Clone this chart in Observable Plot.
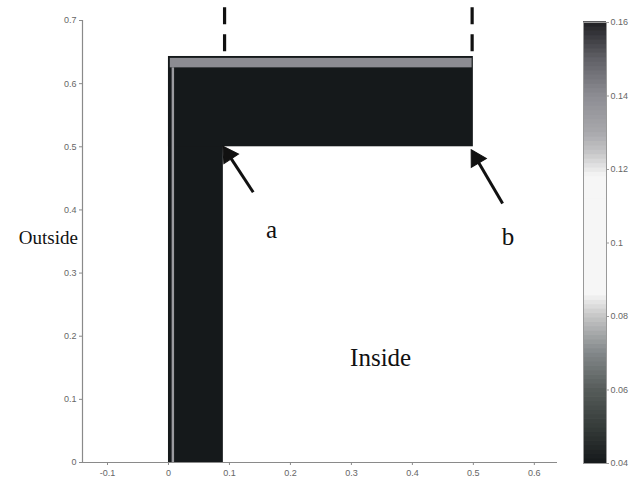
<!DOCTYPE html>
<html>
<head>
<meta charset="utf-8">
<script src="https://cdn.jsdelivr.net/npm/d3@7"></script>
<script src="https://cdn.jsdelivr.net/npm/@observablehq/plot@0.6"></script>
<style>
  html, body { margin: 0; padding: 0; background: #fff; }
  #wrap { position: relative; width: 634px; height: 484px; }
  #main { position: absolute; left: 0; top: 0; }
  #cbar { position: absolute; left: 570px; top: 0; }
</style>
</head>
<body>
<div id="wrap"><div id="main"></div><div id="cbar"></div></div>
<script>
// ---- data ----
const regionX1 = [0, 0, 0.003, 0.006];
const regionX2 = [0.09, 0.5, 0.498, 0.010];
const regionY1 = [0, 0.5, 0.625, 0.0];
const regionY2 = [0.643, 0.643, 0.640, 0.625];
const regionValue = [0.04, 0.04, 0.14, 0.135];

const dashX = [0.092, 0.498];
const dashTop = [0.72, 0.72];
const dashBottom = [0.645, 0.645];

const arrowX1 = [0.139, 0.548];
const arrowY1 = [0.428, 0.410];
const arrowX2 = [0.092, 0.499];
const arrowY2 = [0.497, 0.491];

const labelText = ["Outside", "Inside", "a", "b"];
const labelX = [-0.197, 0.348, 0.169, 0.557];
const labelY = [0.355, 0.166, 0.368, 0.357];

const xTicks = [-0.1, 0, 0.1, 0.2, 0.3, 0.4, 0.5, 0.6];
const yTicks = [0, 0.1, 0.2, 0.3, 0.4, 0.5, 0.6, 0.7];
const cbarTicks = [0.04, 0.06, 0.08, 0.1, 0.12, 0.14, 0.16];

const cmapStops  = [0.04, 0.05, 0.06, 0.07, 0.08, 0.086, 0.118, 0.125, 0.13, 0.14, 0.15, 0.16];
const cmapColors = ["#15191b", "#363c3a", "#565c5a", "#83888a", "#c6c6c6", "#f6f6f6",
                    "#f6f6f6", "#c2c2c4", "#a8a8ac", "#8c8c92", "#606066", "#202024"];

// ---- layout constants ----
const W = 634, H = 484, mL = 82, mR = 77, mT = 20, mB = 22;
const xDomain = [-0.141, 0.638], yDomain = [0, 0.7];
const pxPerX = (W - mL - mR) / (xDomain[1] - xDomain[0]);
const pxPerY = (H - mT - mB) / (yDomain[1] - yDomain[0]);

// ---- build tables ----
const regions = regionValue.map((v, i) => ({x1: regionX1[i], x2: regionX2[i], y1: regionY1[i], y2: regionY2[i], v}));
const dashes = dashX.map((x, i) => ({x, y1: dashTop[i], y2: dashBottom[i]}));
const arrows = arrowX1.map((x, i) => {
  const x2 = arrowX2[i], y2 = arrowY2[i], y1 = arrowY1[i];
  const dxp = (x2 - x) * pxPerX, dyp = (y2 - y1) * pxPerY;
  const len = Math.hypot(dxp, dyp);
  const back = 7 / len; // place head centroid slightly behind tip
  return {
    x1: x, y1, x2, y2,
    hx: x2 - (x2 - x) * back, hy: y2 - (y2 - y1) * back,
    sx: x2 - (x2 - x) * (9 / len), sy: y2 - (y2 - y1) * (9 / len),
    rot: Math.atan2(dxp, dyp) * 180 / Math.PI
  };
});
const labels = labelText.map((t, i) => ({t, x: labelX[i], y: labelY[i]}));

const fmt = d => `${+d.toFixed(2)}`;
const colorScale = {type: "linear", domain: cmapStops, range: cmapColors, interpolate: "rgb"};
const axisGray = "#8a8a8a";
const serif = "Liberation Serif, Times New Roman, serif";

const main = Plot.plot({
  width: W, height: H,
  marginLeft: mL, marginRight: mR, marginTop: mT, marginBottom: mB,
  x: {domain: xDomain},
  y: {domain: yDomain},
  color: colorScale,
  style: {fontFamily: "Liberation Sans, Arial, sans-serif", fontSize: "9px", color: "#666", background: "white"},
  marks: [
    Plot.rect(regions, {x1: "x1", x2: "x2", y1: "y1", y2: "y2", fill: "v"}),
    Plot.ruleX(dashes, {x: "x", y1: "y1", y2: "y2", stroke: "#111", strokeWidth: 3.2, strokeDasharray: "17,10"}),
    Plot.link(arrows, {x1: "x1", y1: "y1", x2: "sx", y2: "sy", stroke: "#111", strokeWidth: 3}),
    Plot.dot(arrows, {x: "hx", y: "hy", symbol: "triangle", r: 6.5, fill: "#111", stroke: "#111", strokeWidth: 1, rotate: "rot"}),
    Plot.ruleY([0], {stroke: axisGray, strokeWidth: 1.2}),
    Plot.ruleX([xDomain[0]], {y1: 0, y2: 0.7, stroke: axisGray, strokeWidth: 1.2}),
    Plot.axisX({ticks: xTicks, tickFormat: fmt, tickSize: 3, tickPadding: 4, stroke: axisGray, anchor: "bottom", label: null}),
    Plot.axisY({ticks: yTicks, tickFormat: fmt, tickSize: 3, tickPadding: 3, stroke: axisGray, anchor: "left", label: null}),
    Plot.text(labels.filter(d => d.t === "Outside"), {x: "x", y: "y", text: "t", fontSize: 19, fontFamily: serif, fill: "#111"}),
    Plot.text(labels.filter(d => d.t !== "Outside"), {x: "x", y: "y", text: "t", fontSize: 25, fontFamily: serif, fill: "#111"})
  ]
});
document.getElementById("main").appendChild(main);

// colorbar ramp (legend sampling of the colour scale)
const rampEdges = d3.range(0.04, 0.1601, 0.0012);
const ramp = rampEdges.slice(0, -1).map((e, i) => ({y1: e, y2: rampEdges[i + 1] + 0.0002, v: (e + rampEdges[i + 1]) / 2}));

const cbar = Plot.plot({
  width: 64, height: 484,
  marginLeft: 13, marginRight: 28, marginTop: 22, marginBottom: 21,
  x: {domain: [0, 1], axis: null},
  y: {domain: [0.04, 0.16]},
  color: colorScale,
  style: {fontFamily: "Liberation Sans, Arial, sans-serif", fontSize: "9px", color: "#666"},
  marks: [
    Plot.rect(ramp, {x1: 0, x2: 1, y1: "y1", y2: "y2", fill: "v"}),
    Plot.frame({stroke: "#999", strokeWidth: 1}),
    Plot.axisY({ticks: cbarTicks, tickFormat: fmt, tickSize: 2, tickPadding: 2, anchor: "right", stroke: "#999", label: null})
  ]
});
document.getElementById("cbar").appendChild(cbar);
</script>
</body>
</html>
